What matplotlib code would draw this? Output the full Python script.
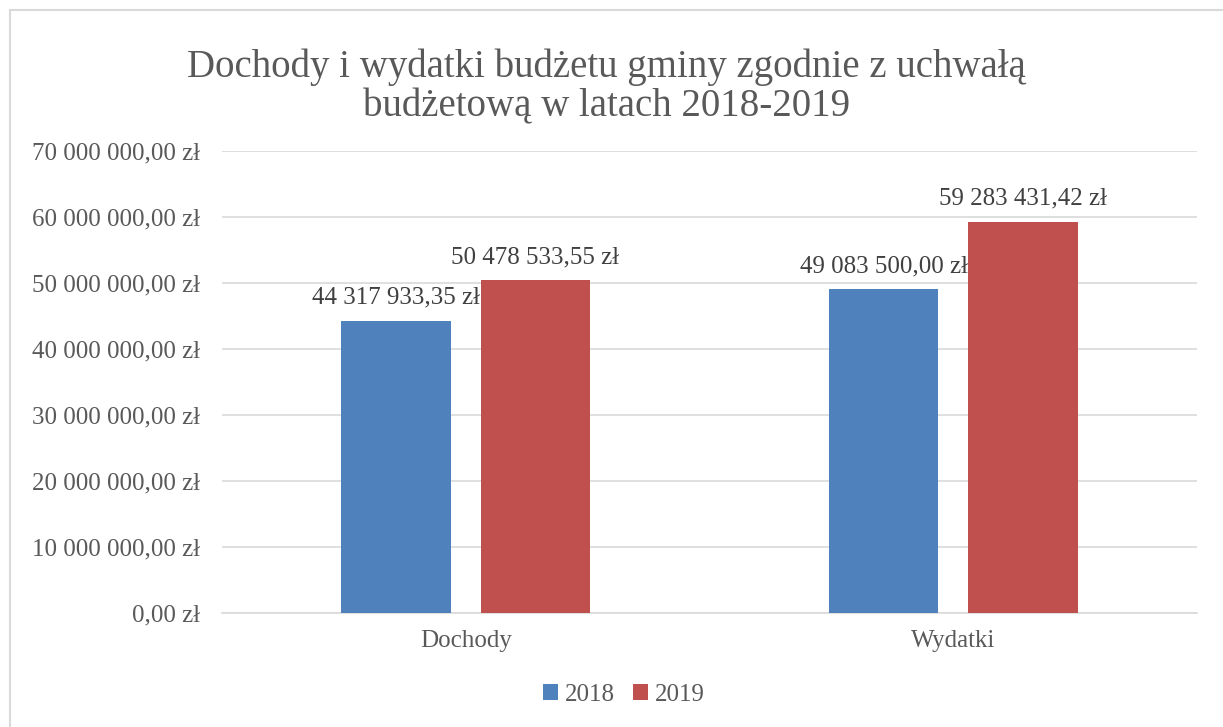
import matplotlib.pyplot as plt
import numpy as np
from matplotlib.patches import Rectangle
from matplotlib.ticker import FuncFormatter

categories = ["Dochody", "Wydatki"]
years = ["2018", "2019"]
values_2018 = [44317933.35, 49083500.00]
values_2019 = [50478533.55, 59283431.42]
colors = ["#4F81BD", "#C0504D"]
title = "Dochody i wydatki budżetu gminy zgodnie z uchwałą\nbudżetową w latach 2018-2019"

plt.rcParams['font.family'] = ['Liberation Serif', 'DejaVu Serif']
txt = "#595959"


def zl(v):
    s = f"{v:,.2f}".replace(",", " ").replace(".", ",")
    return s + " zł"


fig = plt.figure(figsize=(12.23, 7.27), dpi=100)
ax = fig.add_axes([222 / 1223, 114 / 727, 975 / 1223, 462 / 727])

# chart border
fig.patches.append(Rectangle((10 / 1223, -0.1), 1.2, (727 - 10) / 727 + 0.1,
                             transform=fig.transFigure, fill=False,
                             edgecolor="#D9D9D9", linewidth=1.5))

x = np.arange(len(categories))
off = 0.143
w = 0.225
for i, (vals, yr) in enumerate(zip([values_2018, values_2019], years)):
    pos = x + (i - 0.5) * 2 * off
    ax.bar(pos, vals, w, color=colors[i], label=yr, zorder=3)
    for p, v in zip(pos, vals):
        ax.text(p, v + 1.8e6, zl(v), ha="center", va="bottom",
                fontsize=18, color="#404040", zorder=4)

ax.set_xlim(-0.5, 1.5)
ax.set_ylim(0, 70e6)
ax.set_yticks(np.arange(0, 70e6 + 1, 10e6))
ax.yaxis.set_major_formatter(FuncFormatter(lambda v, _: zl(v)))
ax.set_xticks(x)
ax.set_xticklabels(categories)
ax.grid(axis="y", color="#D9D9D9", linewidth=1.2, zorder=0)
for s in ["top", "right", "left"]:
    ax.spines[s].set_visible(False)
ax.spines["bottom"].set_color("#D9D9D9")
ax.spines["bottom"].set_linewidth(1.2)
ax.tick_params(axis="both", length=0, labelsize=18, labelcolor=txt)
ax.tick_params(axis="y", pad=16)
ax.tick_params(axis="x", pad=12)

fig.text(0.5 * (183 + 1030) / 1223, 1 - 87 / 727, title, ha="center", va="center",
         fontsize=28, color=txt, linespacing=1.12)

leg = fig.legend(loc="center", bbox_to_anchor=(624 / 1223, 1 - 695 / 727), ncol=2,
                 frameon=False, fontsize=18, handlelength=0.6, handleheight=0.6,
                 handletextpad=0.3, columnspacing=0.7)
for t in leg.get_texts():
    t.set_color(txt)

fig.savefig("out.png", dpi=100)
